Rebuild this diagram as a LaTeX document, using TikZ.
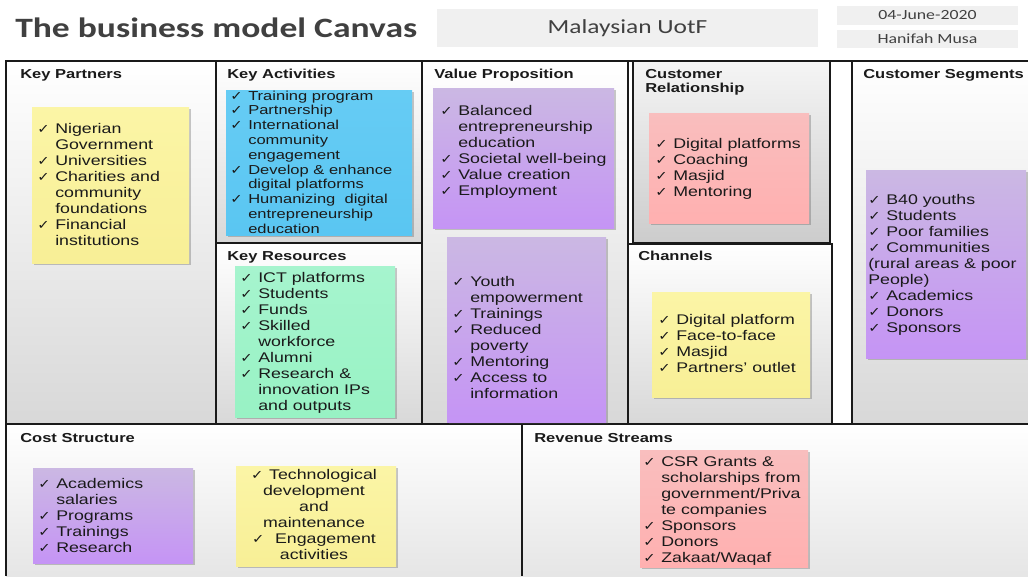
\documentclass[tikz,border=0pt]{standalone}
\usepackage{fontspec}
\setmainfont{Liberation Sans}[FakeStretch=1.27]
\newfontfamily\titlefont{Carlito}[FakeStretch=1.27]
\newfontfamily\ckfont{DejaVu Sans}[FakeStretch=1.15]
\usetikzlibrary{shadows,fit}

\definecolor{ink}{HTML}{1A1A1A}
\definecolor{titlegray}{HTML}{404040}
\definecolor{hdrgray}{HTML}{F0F0F0}
\definecolor{panelgray}{HTML}{D8D8D8}
\definecolor{yellowT}{HTML}{FBF5A6}
\definecolor{yellowB}{HTML}{F8EF96}
\definecolor{blueT}{HTML}{66CCF4}
\definecolor{blueB}{HTML}{5AC6F2}
\definecolor{greenT}{HTML}{A6F4CE}
\definecolor{greenB}{HTML}{98F2C4}
\definecolor{purpT}{HTML}{CBB8E3}
\definecolor{purpB}{HTML}{C594F5}
\definecolor{pinkT}{HTML}{F9BEBE}
\definecolor{pinkB}{HTML}{FFB0B0}

% check mark and hanging indent for list items
\newcommand\ck{\makebox[13.5pt][l]{\ckfont\fontsize{9.6pt}{9.6pt}\selectfont ✓}}
\newcommand\ind{\hspace*{13.5pt}}
\newcommand\lines[1]{\begin{tabular}[t]{@{}l@{}}#1\end{tabular}}
\newcommand\clines[1]{\begin{tabular}[t]{@{}c@{}}#1\end{tabular}}

\tikzset{
  panel/.style={top color=white, bottom color=panelgray},
  rule/.style={line width=1.6pt, draw=ink},
  hdrbox/.style={fill=hdrgray, draw=none, inner sep=0pt},
  note/.style={inner sep=0pt, draw=none,
    drop shadow={shadow xshift=1.6pt, shadow yshift=-1.6pt, opacity=0.3, fill=black!70}},
  yellownote/.style={note, top color=yellowT, bottom color=yellowB},
  bluenote/.style={note, top color=blueT, bottom color=blueB},
  greennote/.style={note, top color=greenT, bottom color=greenB},
  purplenote/.style={note, top color=purpT, bottom color=purpB},
  pinknote/.style={note, top color=pinkT, bottom color=pinkB},
  notetext/.style={anchor=base west, inner sep=0pt, text=ink,
    font=\fontsize{10.5pt}{12pt}\selectfont},
  smalltext/.style={anchor=base west, inner sep=0pt, text=ink,
    font=\fontsize{9.75pt}{11.1pt}\selectfont},
  head/.style={anchor=base west, inner sep=0pt, text=ink,
    font=\bfseries\fontsize{9.75pt}{11.2pt}\selectfont},
}

\begin{document}
\begin{tikzpicture}[x=0.75pt,y=-0.75pt]
\useasboundingbox[fill=white] (0,0) rectangle (1028,576);

% ---- header ----
\node[anchor=base west, inner sep=0pt, text=titlegray,
  font=\titlefont\bfseries\fontsize{21pt}{24pt}\selectfont] (title) at (15,37) {The business model Canvas};
\node[hdrbox, fit={(437,9) (818,47)}] (orgbox) {};
\node[text=titlegray, font=\titlefont\fontsize{15pt}{18pt}\selectfont] at (orgbox.center) {Malaysian UotF};
\node[hdrbox, fit={(837,6) (1018,25)}] (datebox) {};
\node[text=titlegray, font=\titlefont\fontsize{10.5pt}{12pt}\selectfont] at (datebox.center) {04-June-2020};
\node[hdrbox, fit={(837,30) (1018,48)}] (namebox) {};
\node[text=titlegray, font=\titlefont\fontsize{10.5pt}{12pt}\selectfont] at (namebox.center) {Hanifah Musa};

% ---- panel backgrounds ----
\shade[panel] (6,61) rectangle (216,424);
\shade[panel] (216,61) rectangle (422,243);
\shade[panel] (216,243) rectangle (422,424);
\shade[panel] (422,61) rectangle (628,424);
\shade[top color=black!4, bottom color=black!20] (633,61) rectangle (830,243);
\shade[panel] (628,244) rectangle (832,424);
\fill[white] (832,61) rectangle (852,424);
\shade[panel] (852,61) rectangle (1028,424);
\shade[top color=white, bottom color=black!10] (6,424) rectangle (522,576);
\shade[top color=white, bottom color=black!10] (522,424) rectangle (1028,576);

% ---- panel rules ----
\draw[rule] (1028,61) -- (6,61) -- (6,576);
\draw[rule] (216,61) -- (216,424);
\draw[rule] (216,243) -- (422,243);
\draw[rule] (422,61) -- (422,424);
\draw[rule] (628,61) -- (628,424);
\draw[rule] (633,61) -- (633,243) -- (830,243) -- (830,61);
\draw[rule] (627,244) -- (832,244) -- (832,424);
\draw[rule] (852,61) -- (852,424);
\draw[rule] (6,424) -- (1028,424);
\draw[rule] (522,424) -- (522,576);

% ---- panel headings ----
\node[head] (hkp) at (20,78) {Key Partners};
\node[head] (hka) at (227,78) {Key Activities};
\node[head] (hkr) at (227,260) {Key Resources};
\node[head] (hvp) at (434,78) {Value Proposition};
\node[head] (hcr) at (645,78) {\begin{tabular}[t]{@{}l@{}}Customer\\ Relationship\end{tabular}};
\node[head] (hch) at (638,260) {Channels};
\node[head] (hcs) at (863,78) {Customer Segments};
\node[head] (hcost) at (20,442) {Cost Structure};
\node[head] (hrev) at (534,442) {Revenue Streams};

% ---- sticky notes ----
\node[yellownote, fit={(32,107) (189,263)}] (kpnote) {};
\node[bluenote, fit={(226,90) (412,235)}] (kanote) {};
\node[greennote, fit={(235,266) (395,417)}] (krnote) {};
\node[purplenote, fit={(433,88) (614,228)}] (vpnote) {};
\node[purplenote, fit={(447,237) (606,422)}] (vpnote2) {};
\node[pinknote, fit={(649,113) (809,223)}] (crnote) {};
\node[yellownote, fit={(652,292) (810,397)}] (chnote) {};
\node[purplenote, fit={(866,170) (1026,358)}] (csnote) {};
\node[purplenote, fit={(33,468) (193,563)}] (costnote) {};
\node[yellownote, fit={(236,466) (396,566)}] (costnote2) {};
\node[pinknote, fit={(640,450) (808,567)}] (revnote) {};

% ---- note texts ----
\node[notetext] (kptext) at (37,133) {\lines{%
  \ck Nigerian\\ \ind Government\\ \ck Universities\\ \ck Charities and\\
  \ind community\\ \ind foundations\\ \ck Financial\\ \ind institutions}};

\node[smalltext] (katext) at (230,100) {\lines{%
  \ck Training program\\ \ck Partnership\\ \ck International\\ \ind community\\
  \ind engagement\\ \ck Develop \& enhance\\ \ind digital platforms\\
  \ck Humanizing\ \ digital\\ \ind entrepreneurship\\ \ind education}};

\node[notetext] (krtext) at (240,282) {\lines{%
  \ck ICT platforms\\ \ck Students\\ \ck Funds\\ \ck Skilled\\ \ind workforce\\
  \ck Alumni\\ \ck Research \&\\ \ind innovation IPs\\ \ind and outputs}};

\node[notetext] (vptext) at (440,115) {\lines{%
  \ck Balanced\\ \ind entrepreneurship\\ \ind education\\ \ck Societal well-being\\
  \ck Value creation\\ \ck Employment}};

\node[notetext] (vptext2) at (452,286) {\lines{%
  \ck Youth\\ \ind empowerment\\ \ck Trainings\\ \ck Reduced\\ \ind poverty\\
  \ck Mentoring\\ \ck Access to\\ \ind information}};

\node[notetext] (crtext) at (655,148) {\lines{%
  \ck Digital platforms\\ \ck Coaching\\ \ck Masjid\\ \ck Mentoring}};

\node[notetext] (chtext) at (658,324) {\lines{%
  \ck Digital platform\\ \ck Face-to-face\\ \ck Masjid\\ \ck Partners’ outlet}};

\node[notetext] (cstext) at (868,204) {\lines{%
  \ck B40 youths\\ \ck Students\\ \ck Poor families\\ \ck Communities\\
  (rural areas \& poor\\ People)\\ \ck Academics\\ \ck Donors\\ \ck Sponsors}};

\node[notetext] (costtext) at (38,488) {\lines{%
  \ck Academics\\ \ind salaries\\ \ck Programs\\ \ck Trainings\\ \ck Research}};

\node[notetext, anchor=base] (costtext2) at (314,479) {\clines{%
  \ck Technological\\ development\\ and\\ maintenance\\ \ck\ Engagement\\ activities}};

\node[notetext] (revtext) at (643,466) {\lines{%
  \ck CSR Grants \&\\ \ind scholarships from\\ \ind government/Priva\\ \ind te companies\\
  \ck Sponsors\\ \ck Donors\\ \ck Zakaat/Waqaf}};
\end{tikzpicture}
\end{document}
